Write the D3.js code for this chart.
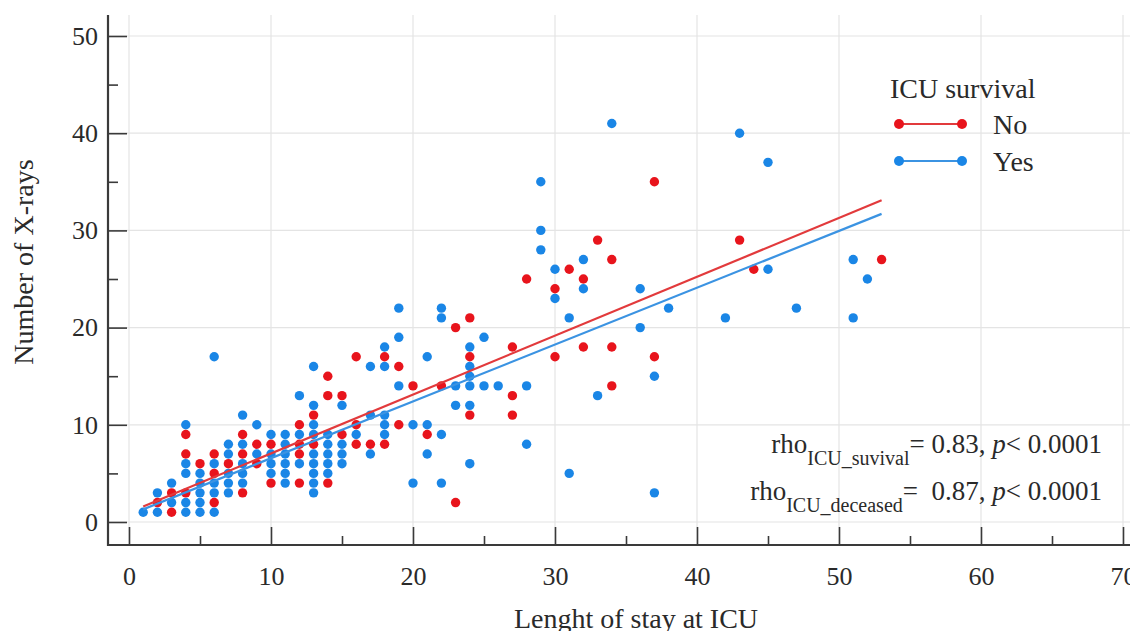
<!DOCTYPE html>
<html><head><meta charset="utf-8">
<script src="https://cdn.jsdelivr.net/npm/d3@7"></script>
<style>
body{margin:0;background:#fff}
svg{display:block}
svg text{font-family:"Liberation Serif","Times New Roman",serif !important;fill:#2a2a2a}
</style>
</head><body><svg id="chart" width="1130" height="631"></svg>
<script>
// ---- data ----
const xTicks = [0,10,20,30,40,50,60,70];
const xMinorTicks = [5,15,25,35,45,55,65];
const yTicks = [0,10,20,30,40,50];
const yMinorTicks = [5,15,25,35,45];
const groups = ["No","Yes"];
const groupColors = ["#e8141c","#1a86e6"];
const lineColors = ["#e23a3c","#3b93e2"];
const legendTitle = "ICU survival";
const xTitle = "Lenght of stay at ICU";
const yTitle = "Number of X-rays";
// ICU survival = No : [length of stay, number of X-rays]
const pointsNo = [
 [2,2],[3,1],[3,3],[4,3],[4,7],[4,9],[5,6],[6,2],[6,5],[6,7],[7,6],
 [8,3],[8,7],[8,9],[9,6],[9,8],[10,4],[10,8],[12,4],[12,7],[12,8],[12,10],
 [13,8],[13,11],[14,4],[14,13],[14,15],[15,9],[15,13],[16,8],[16,10],[16,17],
 [17,8],[18,8],[18,17],[19,10],[19,16],[20,14],[21,9],[22,14],[23,2],[23,20],
 [24,11],[24,17],[24,21],[27,11],[27,13],[27,18],[28,25],[30,17],[30,24],
 [31,26],[32,18],[32,25],[33,29],[34,14],[34,18],[34,27],[37,17],[37,35],
 [43,29],[44,26],[53,27]
];
// ICU survival = Yes
const pointsYes = [
 [1,1],[2,1],[2,3],[3,2],[3,4],[4,1],[4,2],[4,5],[4,6],[4,10],
 [5,1],[5,2],[5,3],[5,4],[5,5],[6,1],[6,3],[6,4],[6,6],[6,17],
 [7,3],[7,4],[7,5],[7,7],[7,8],[8,4],[8,5],[8,6],[8,8],[8,11],
 [9,7],[9,10],[10,5],[10,6],[10,7],[10,9],[11,4],[11,5],[11,6],[11,7],[11,8],[11,9],
 [12,6],[12,9],[12,13],[13,3],[13,4],[13,5],[13,6],[13,7],[13,9],[13,10],[13,12],[13,16],
 [14,5],[14,6],[14,7],[14,8],[14,9],[15,6],[15,7],[15,8],[15,12],[16,9],
 [17,7],[17,11],[17,16],[18,9],[18,10],[18,11],[18,16],[18,18],
 [19,14],[19,19],[19,22],[20,4],[20,10],[21,7],[21,10],[21,17],
 [22,4],[22,9],[22,21],[22,22],[23,12],[23,14],
 [24,6],[24,12],[24,14],[24,15],[24,16],[24,18],[25,14],[25,19],[26,14],
 [28,8],[28,14],[29,28],[29,30],[29,35],[30,23],[30,26],[31,5],[31,21],
 [32,24],[32,27],[33,13],[34,41],[36,20],[36,24],[37,3],[37,15],[38,22],
 [42,21],[43,40],[45,26],[45,37],[47,22],[51,21],[51,27],[52,25]
];
// fitted regression lines (end points)
const fitNo = [[1,1.6],[53,33.1]];
const fitYes = [[1,1.3],[53,31.7]];
const rhoLines = [
  {name:"rho", sub:"ICU_suvival", rest:"= 0.83, ", p:"p", tail:"< 0.0001"},
  {name:"rho", sub:"ICU_deceased", rest:"=\u00a0 0.87, ", p:"p", tail:"< 0.0001"}
];

// ---- chart ----
const FONT = '"Liberation Serif","Times New Roman",serif';
const svg = d3.select("#chart");
svg.append("rect").attr("width",1130).attr("height",631).attr("fill","#fff");
const x = d3.scaleLinear().domain([0,70]).range([129,1123]);
const y = d3.scaleLinear().domain([0,50]).range([522,36]);
const axisLeftX = 108, axisBottomY = 545, topY = 15, rightX = 1130;

// grid
const grid = svg.append("g").attr("stroke","#e4e4e4").attr("stroke-width",1.2);
grid.selectAll(".gx").data(xTicks).join("line")
  .attr("x1",d=>x(d)).attr("x2",d=>x(d)).attr("y1",topY).attr("y2",axisBottomY);
grid.selectAll(".gy").data(yTicks).join("line")
  .attr("y1",d=>y(d)).attr("y2",d=>y(d)).attr("x1",axisLeftX).attr("x2",rightX);

// axes
function styleAxis(g){
  g.attr("font-family",null).attr("font-size",null);
  g.select(".domain").remove();
  g.selectAll(".tick line").attr("stroke","#3a3a3a").attr("stroke-width",1.6);
  g.selectAll(".tick text").style("font-size","26px").style("fill","#2a2a2a")
   .style("font-family",FONT);
}
svg.append("g").attr("transform",`translate(${axisLeftX},0)`)
  .call(d3.axisLeft(y).tickValues(yTicks).tickSize(-19).tickPadding(10).tickFormat(d3.format("d")))
  .call(styleAxis);
svg.append("g").attr("transform",`translate(${axisLeftX},0)`)
  .call(d3.axisLeft(y).tickValues(yMinorTicks).tickSize(-10).tickFormat(""))
  .call(styleAxis);
svg.append("g").attr("transform",`translate(0,${axisBottomY})`)
  .call(d3.axisBottom(x).tickValues(xTicks).tickSize(-18).tickPadding(22).tickFormat(d3.format("d")))
  .call(styleAxis);
svg.append("g").attr("transform",`translate(0,${axisBottomY})`)
  .call(d3.axisBottom(x).tickValues(xMinorTicks).tickSize(-9).tickFormat(""))
  .call(styleAxis);
svg.append("line").attr("x1",axisLeftX).attr("x2",axisLeftX).attr("y1",topY).attr("y2",axisBottomY+1)
  .attr("stroke","#3a3a3a").attr("stroke-width",2.2);
svg.append("line").attr("x1",axisLeftX-1).attr("x2",rightX).attr("y1",axisBottomY).attr("y2",axisBottomY)
  .attr("stroke","#3a3a3a").attr("stroke-width",2.2);

// axis titles
svg.append("text").attr("x",636).attr("y",628).attr("text-anchor","middle")
  .style("font-size","28px").style("font-family",FONT).text(xTitle);
svg.append("text").attr("transform","translate(33,262) rotate(-90)").attr("text-anchor","middle")
  .style("font-size","28px").style("font-family",FONT).text(yTitle);

// points
const sets = [pointsNo, pointsYes];
[1,0].forEach(i=>{
  svg.append("g").selectAll("circle").data(sets[i]).join("circle")
    .attr("cx",d=>x(d[0])).attr("cy",d=>y(d[1])).attr("r",4.7)
    .attr("fill",groupColors[i]);
});

// regression lines
const line = d3.line().x(d=>x(d[0])).y(d=>y(d[1]));
[[fitYes,1],[fitNo,0]].forEach(([f,i])=>{
  svg.append("path").datum(f).attr("d",line).attr("fill","none")
    .attr("stroke",lineColors[i]).attr("stroke-width",2.2);
});

// legend
const lg = svg.append("g");
lg.append("text").attr("x",890).attr("y",98).style("font-size","28px").style("font-family",FONT).text(legendTitle);
const legendY = [124,161];
groups.forEach((g,i)=>{
  const yy = legendY[i];
  lg.append("line").attr("x1",899).attr("x2",962).attr("y1",yy).attr("y2",yy)
    .attr("stroke",lineColors[i]).attr("stroke-width",2.2);
  lg.selectAll(null).data([899,962]).join("circle").attr("cx",d=>d).attr("cy",yy).attr("r",5)
    .attr("fill",groupColors[i]);
  lg.append("text").attr("x",993).attr("y",yy+10).style("font-size","28px").style("font-family",FONT).text(g);
});

// rho annotation
const rhoY = [453,500];
rhoLines.forEach((r,i)=>{
  const t = svg.append("text").attr("x",1102).attr("y",rhoY[i]).attr("text-anchor","end")
    .style("font-size","27px").style("font-family",FONT);
  t.append("tspan").text(r.name);
  t.append("tspan").style("font-size","20px").attr("dy",12).text(r.sub);
  t.append("tspan").attr("dy",-12).text(r.rest);
  t.append("tspan").style("font-style","italic").text(r.p);
  t.append("tspan").text(r.tail);
});
</script>
</body></html>
